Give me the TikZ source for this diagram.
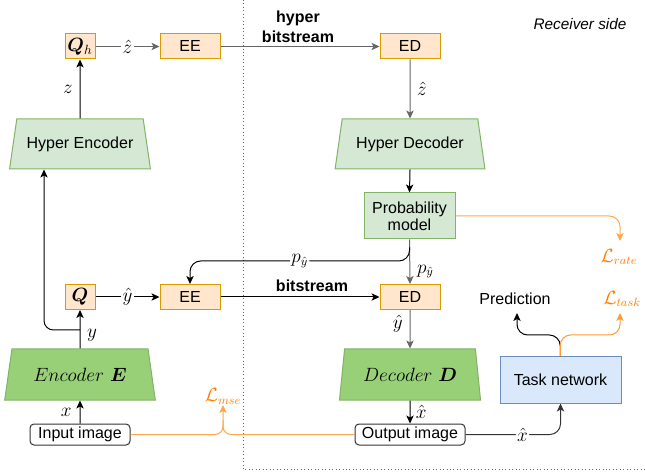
\documentclass[tikz,border=0pt]{standalone}
\usepackage{amsmath,bm}
\usepackage{fontspec}
\setmainfont{Liberation Sans}
\usetikzlibrary{arrows.meta,shapes.geometric,calc}

\definecolor{orfill}{HTML}{FFE6CC}
\definecolor{ordraw}{HTML}{D79B00}
\definecolor{grfill}{HTML}{D5E8D4}
\definecolor{grdark}{HTML}{97D077}
\definecolor{grdraw}{HTML}{82B366}
\definecolor{blfill}{HTML}{DAE8FC}
\definecolor{bldraw}{HTML}{6C8EBF}
\definecolor{lossline}{HTML}{FFA64D}
\definecolor{losstext}{HTML}{FF8000}
\definecolor{midgray}{HTML}{666666}

\tikzset{
  base/.style={font=\fontsize{12}{14}\selectfont, inner sep=0pt, line width=0.75pt},
  codec/.style={base, draw=ordraw, fill=orfill, minimum height=25*0.75pt},
  lightblock/.style={base, draw=grdraw, fill=grfill},
  netblock/.style={base, trapezium, trapezium stretches=true, draw=grdraw, minimum height=50*0.75pt},
  imgbox/.style={base, draw=black!80, rounded corners=3pt, fill=white, minimum height=21*0.75pt},
  arr/.style={line width=0.75pt, -{Stealth[length=6pt,width=5.5pt,inset=1.5pt]}},
  lossarr/.style={arr, draw=lossline},
  lbl/.style={font=\fontsize{13.5}{15}\selectfont, inner sep=1pt},
  onlbl/.style={lbl, fill=white},
  losslbl/.style={font=\fontsize{13.5}{15}\selectfont, text=losstext, inner sep=0pt},
  bigmath/.style={font=\fontsize{14.5}{16}\selectfont},
}

\begin{document}
\begin{tikzpicture}[x=0.75pt,y=-0.75pt]
\useasboundingbox (0,0) rectangle (645,473);

% sender / receiver separation
\draw[dotted, line width=0.6pt, black!60] (243,0) -- (243,469) -- (645,469);
\node[lbl, font=\fontsize{11.5}{13}\selectfont\itshape] (recv) at (580,24) {Receiver side};

% codec boxes
\node[codec, bigmath, minimum width=30*0.75pt] (qh) at (80,46.5) {$\bm{Q}_h$};
\node[codec, minimum width=60*0.75pt] (ee1) at (190,46.5) {EE};
\node[codec, minimum width=60*0.75pt] (ed1) at (410,46.5) {ED};
\node[codec, bigmath, minimum width=30*0.75pt] (q) at (80,297) {$\bm{Q}$};
\node[codec, minimum width=60*0.75pt] (ee2) at (190,297) {EE};
\node[codec, minimum width=60*0.75pt] (ed2) at (410,297) {ED};

% networks
\node[netblock, fill=grfill, minimum width=141*0.75pt, trapezium angle=67.7] (he) at (80,144) {Hyper Encoder};
\node[netblock, fill=grfill, minimum width=150*0.75pt, trapezium angle=69.2] (hd) at (410,144) {Hyper Decoder};
\node[netblock, fill=grdark, minimum width=151*0.75pt, minimum height=51*0.75pt, trapezium angle=69.6, font=\fontsize{15.5}{17}\selectfont] (enc) at (80,374.5) {$Encoder\ \bm{E}$};
\node[netblock, fill=grdark, minimum width=142*0.75pt, minimum height=51*0.75pt, trapezium angle=74.6, font=\fontsize{15.5}{17}\selectfont] (dec) at (410,374.5) {$Decoder\ \bm{D}$};

\node[lightblock, minimum width=91*0.75pt, minimum height=46*0.75pt, align=center] (pm) at (409.5,216) {Probability\\[-1pt]model};
\node[base, draw=bldraw, fill=blfill, minimum width=121*0.75pt, minimum height=46*0.75pt] (tn) at (560.5,380) {Task network};

\node[imgbox, minimum width=100*0.75pt] (in) at (80,434.5) {Input image};
\node[imgbox, minimum width=110*0.75pt] (out) at (410,434.5) {Output image};

% free ends
\coordinate (ybr) at (80,330);
\coordinate (rate) at (620,241);
\coordinate (mse) at (223,405);
\coordinate (pred) at (517,313);
\coordinate (task) at (620,313);
\coordinate (tsplit) at (560,335);

% hyper path
\draw[arr] (he.north) -- node[lbl, left=4pt] {$z$} (qh.south);
\draw[arr, draw=midgray] (qh.east) -- node[onlbl] {$\hat{z}$} (ee1.west);
\draw[arr, draw=midgray] (ee1.east) -- (ed1.west);
\node[lbl, font=\fontsize{12}{15}\selectfont\bfseries, align=center] (hbits) at (298,27) {hyper\\bitstream};
\draw[arr, draw=midgray] (ed1.south) -- node[lbl, right=4pt] {$\hat{z}$} (hd.north);
\draw[arr] (hd.south) -- (pm.north);
\draw[lossarr, rounded corners=8pt] (pm.east) -| (rate);
\node[losslbl] (lrate) at (619,257) {$\mathcal{L}_{rate}$};

% main path
\draw[arr] (in.north) -- node[lbl, left=5pt] {$x$} (enc.south);
\draw[arr] (enc.north) -- node[lbl, right=4pt, pos=0.35] {$y$} (q.south);
\draw[arr, rounded corners=7pt] (ybr) -- (44,330) -- ($(he.south)+(-36,0)$);
\draw[arr] (q.east) -- node[onlbl] {$\hat{y}$} (ee2.west);
\draw[arr] (ee2.east) -- (ed2.west);
\node[lbl, font=\fontsize{12}{14}\selectfont\bfseries] (bits) at (312,286) {bitstream};
\draw[arr, draw=midgray] (pm.south) -- node[lbl, right=4pt, pos=0.72] {$p_{\hat{y}}$} (ed2.north);
\draw[arr, rounded corners=8pt] ($(pm.south)+(0,8)$) |- node[onlbl, pos=0.75] {$p_{\hat{y}}$} ($(ee2.north)+(0,-23)$) -- (ee2.north);
\draw[arr, draw=midgray] (ed2.south) -- node[lbl, left=4pt, pos=0.35] {$\hat{y}$} (dec.north);
\draw[arr] (dec.south) -- node[lbl, right=3pt] {$\hat{x}$} (out.north);
\draw[arr, draw=black!80, rounded corners=8pt] (out.east) -| node[onlbl, pos=0.3] {$\hat{x}$} (tn.south);

% distortion loss
\draw[line width=0.75pt, draw=lossline, rounded corners=6pt] (in.east) -- (223,434.5) -- (223,420);
\draw[lossarr, rounded corners=6pt] (out.west) -- (223,434.5) -- (mse);
\node[losslbl] (lmse) at (223,396) {$\mathcal{L}_{mse}$};

% task branch
\draw[arr, rounded corners=8pt] (tn.north) -- (tsplit) -| (pred);
\draw[lossarr, draw=losstext!80, rounded corners=8pt] (tn.north) -- (tsplit) -| (task);
\node[lbl, font=\fontsize{12}{14}\selectfont] (predl) at (515,299) {Prediction};
\node[losslbl] (ltask) at (622,299) {$\mathcal{L}_{task}$};
\end{tikzpicture}
\end{document}
